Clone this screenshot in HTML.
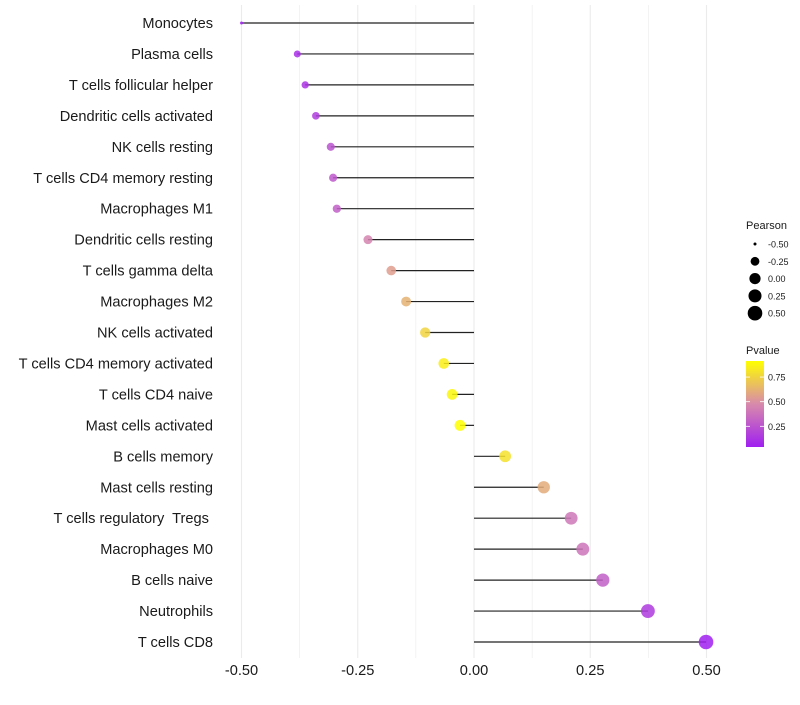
<!DOCTYPE html>
<html><head><meta charset="utf-8"><style>
body{margin:0;background:#fff;font-family:"Liberation Sans",sans-serif}
text{white-space:pre}
</style></head><body>
<svg id="chart" width="800" height="700" xmlns="http://www.w3.org/2000/svg" font-family="Liberation Sans, sans-serif"></svg>
<script>
const categories=["Monocytes","Plasma cells","T cells follicular helper","Dendritic cells activated","NK cells resting","T cells CD4 memory resting","Macrophages M1","Dendritic cells resting","T cells gamma delta","Macrophages M2","NK cells activated","T cells CD4 memory activated","T cells CD4 naive","Mast cells activated","B cells memory","Mast cells resting","T cells regulatory  Tregs ","Macrophages M0","B cells naive","Neutrophils","T cells CD8"];
const pearson=[-0.50,-0.38,-0.363,-0.34,-0.308,-0.303,-0.295,-0.228,-0.178,-0.146,-0.105,-0.065,-0.047,-0.03,0.067,0.15,0.209,0.234,0.277,0.374,0.499];
const pvalue=[0.04,0.10,0.12,0.16,0.25,0.27,0.30,0.45,0.55,0.62,0.75,0.85,0.88,0.91,0.80,0.60,0.40,0.38,0.30,0.15,0.04];
const xTicks=[-0.5,-0.25,0,0.25,0.5];
const xTickLabels=["-0.50","-0.25","0.00","0.25","0.50"];
const sizeLegend=[-0.5,-0.25,0,0.25,0.5];
const colorLegend=[0.25,0.5,0.75];

const svg=document.getElementById('chart');
const NS="http://www.w3.org/2000/svg";
function mk(tag,attrs,parent){const e=document.createElementNS(NS,tag);for(const k in attrs)e.setAttribute(k,attrs[k]);(parent||svg).appendChild(e);return e;}
const x=v=>474+v*465;
const y=i=>23+i*30.95;
const r=v=>1.5+5.8*Math.sqrt(Math.max(0,Math.min(1,v+0.5)));
function lerp(a,b,t){return a.map((c,i)=>Math.round(c+(b[i]-c)*t));}
function col(p){const s0=[160,32,240],s1=[216,138,171],s2=[255,255,0];const t=Math.max(0,Math.min(1,(p-0.04)/0.87));const c=t<0.5?lerp(s0,s1,t*2):lerp(s1,s2,(t-0.5)*2);return `rgb(${c[0]},${c[1]},${c[2]})`;}
const yL=v=>447-(v-0.04)*98.5;

for(const v of [-0.5,-0.375,-0.25,-0.125,0,0.125,0.25,0.375,0.5]){
  const g=mk('line',{x1:x(v),x2:x(v),y1:5,y2:658,stroke:'#ebebeb','stroke-width':Number.isInteger(v*4)?1.1:0.6});
  
  
}
categories.forEach((c,i)=>{
  const l=mk('line',{x1:x(0),x2:x(pearson[i]),y1:y(i),y2:y(i),stroke:'#222','stroke-width':1.2});
  
  
  const d=mk('circle',{cx:x(pearson[i]),cy:y(i),r:r(pearson[i]),fill:col(pvalue[i]),'fill-opacity':0.85});
  
  
  const t=mk('text',{x:213,y:y(i)+5,'text-anchor':'end','font-size':14.6,fill:'#1a1a1a'});
  t.textContent=c;
  
  
});
xTicks.forEach((v,i)=>{
  const t=mk('text',{x:x(v),y:675,'text-anchor':'middle','font-size':14.6,fill:'#1a1a1a'});
  t.textContent=xTickLabels[i];
  
  
});
const lt=mk('text',{x:746,y:229,'font-size':11,fill:'#1a1a1a'});lt.textContent='Pearson';


sizeLegend.forEach((v,i)=>{
  const cy=244+i*17.3;
  const c=mk('circle',{cx:755,cy:cy,r:r(v),fill:'#000'});
  
  
  const t=mk('text',{x:768,y:cy+3.5,'font-size':9,fill:'#1a1a1a'});t.textContent=v.toFixed(2);
  
  
});
const ct=mk('text',{x:746,y:354,'font-size':11,fill:'#1a1a1a'});ct.textContent='Pvalue';


const defs=mk('defs',{});
const lg=mk('linearGradient',{id:'pg',x1:0,y1:1,x2:0,y2:0},defs);
for(let k=0;k<=10;k++){mk('stop',{offset:k/10,'stop-color':col(0.04+0.87*k/10)},lg);}
const bar=mk('rect',{x:746,y:361,width:18,height:86,fill:'url(#pg)'});


colorLegend.forEach(v=>{
  mk('line',{x1:746,x2:750,y1:yL(v),y2:yL(v),stroke:'#fff','stroke-width':0.8});
  mk('line',{x1:760,x2:764,y1:yL(v),y2:yL(v),stroke:'#fff','stroke-width':0.8});
  const t=mk('text',{x:768,y:yL(v)+3.5,'font-size':9,fill:'#1a1a1a'});t.textContent=v.toFixed(2);
  
  
});
</script>
</body></html>
